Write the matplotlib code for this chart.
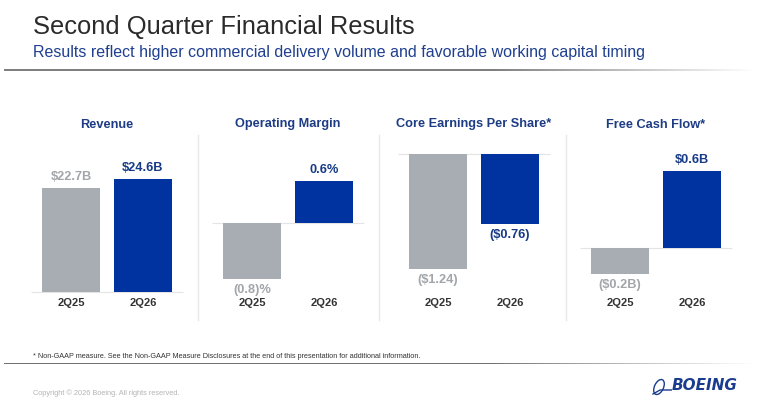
import matplotlib.pyplot as plt
import numpy as np
from matplotlib.patches import Ellipse
from matplotlib.transforms import blended_transform_factory

plt.rcParams['font.family'] = ['Liberation Sans', 'DejaVu Sans']

# chart data
panel_titles = ['Revenue', 'Operating Margin', 'Core Earnings Per Share*', 'Free Cash Flow*']
quarters = ['2Q25', '2Q26']
revenue = [22.7, 24.6]
operating_margin = [-0.8, 0.6]
core_eps = [-1.24, -0.76]
free_cash_flow = [-0.2, 0.6]
revenue_labels = ['$22.7B', '$24.6B']
margin_labels = ['(0.8)%', '0.6%']
eps_labels = ['($1.24)', '($0.76)']
fcf_labels = ['($0.2B)', '$0.6B']

GRAY = '#a7adb2'
BLUE = '#0033a0'
GRAY_TXT = '#a2a6aa'
BLUE_TXT = '#163a86'
TITLE_BLUE = '#1d3c84'

W, H = 760, 408
fig = plt.figure(figsize=(7.6, 4.08), dpi=100)


def fx(px):
    return px / W


def fy(py):
    return 1 - py / H


def fade_line(y, x0, x1, gray, thick):
    # thin strip axes holding a horizontal gradient that fades out to the right
    lax = fig.add_axes([fx(x0), fy(y + thick / 2), (x1 - x0) / W, thick / H])
    t = np.linspace(0, 1, 400)
    alpha = np.clip((1 - t) / 0.35, 0, 1)
    img = np.zeros((1, len(t), 4))
    img[..., :3] = gray
    img[0, :, 3] = alpha
    lax.imshow(img, aspect='auto', interpolation='bilinear', extent=(0, 1, 0, 1))
    lax.axis('off')


# header
fig.text(fx(33), fy(27), 'Second Quarter Financial Results', fontsize=18.4,
         color='#2b2b2b', va='center', ha='left')
fig.text(fx(33), fy(53), 'Results reflect higher commercial delivery volume and favorable working capital timing',
         fontsize=11.5, color='#1f3f8f', va='center', ha='left')
fade_line(70, 4, 755, 0.5, 2)

# panel layout: centre x (px), zero line y (px), px per unit
layout = [(107, 292, 4.59), (288, 223, 70), (474, 154, 92.5), (656, 248, 128)]
series = [revenue, operating_margin, core_eps, free_cash_flow]
labels = [revenue_labels, margin_labels, eps_labels, fcf_labels]

for title, vals, labs, (cx, zero_px, scale) in zip(panel_titles, series, labels, layout):
    ax = fig.add_axes([fx(cx - 90), fy(300), 180 / W, 160 / H])
    ax.set_xlim(-0.75, 1.75)
    ax.set_ylim(-(300 - zero_px) / scale, (zero_px - 140) / scale)
    ax.axis('off')
    ax.hlines(0, -0.55, 1.55, color='#e4e4e4', lw=0.8, zorder=1)
    ax.bar([0, 1], vals, width=0.8, color=[GRAY, BLUE], zorder=2)
    for i, (v, lab) in enumerate(zip(vals, labs)):
        ax.annotate(lab, (i, v), xytext=(0, 8 if v > 0 else -8), textcoords='offset points',
                    ha='center', va='center', fontsize=9.2, fontweight='bold',
                    color=[GRAY_TXT, BLUE_TXT][i])
    tr = blended_transform_factory(ax.transData, fig.transFigure)
    for i, q in enumerate(quarters):
        ax.text(i, fy(303), q, transform=tr, ha='center', va='center',
                fontsize=8, fontweight='bold', color='#333333')
    fig.text(fx(cx), fy(124.5), title, ha='center', va='center', fontsize=9.2,
             fontweight='bold', color=TITLE_BLUE)

# vertical separators
for sx in [198, 379, 566]:
    fig.add_artist(plt.Line2D([fx(sx), fx(sx)], [fy(135), fy(320)], color='#e8e8e8',
                              lw=1, transform=fig.transFigure))

# footer
fig.text(fx(33), fy(357), '* Non-GAAP measure. See the Non-GAAP Measure Disclosures at the end of this '
         'presentation for additional information.', fontsize=5.2, color='#333333', va='center')
fade_line(363.5, 4, 755, 0.45, 1.2)
fig.text(fx(33), fy(393), 'Copyright \u00a9 2026 Boeing. All rights reserved.', fontsize=5.3,
         color='#b4b4b4', va='center')

# logo
fig.text(fx(672), fy(386), 'BOEING', fontsize=11, fontweight='bold', style='italic',
         family='DejaVu Sans', color='#1a3c8f', va='center', ha='left')
lax = fig.add_axes([fx(648), fy(400), 24 / W, 24 / H])
lax.set_xlim(0, 24)
lax.set_ylim(0, 24)
lax.axis('off')
lax.add_patch(Ellipse((11, 13), 9, 16, angle=-25, fill=False, ec='#1a3c8f', lw=1))
lax.plot([5, 12, 24], [6, 10, 10], color='#1a3c8f', lw=1)

fig.savefig('out.png', dpi=100)
